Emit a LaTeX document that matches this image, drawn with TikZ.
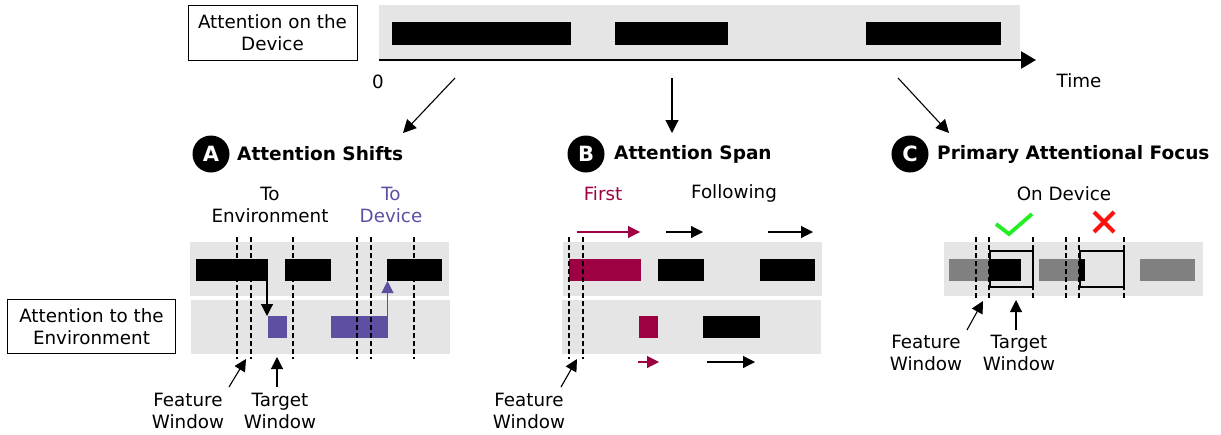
\documentclass[tikz,border=0pt]{standalone}
\usepackage{fontspec}
\setmainfont{DejaVu Sans}
\usetikzlibrary{arrows.meta}
\definecolor{bandgray}{HTML}{E5E5E5}
\definecolor{purp}{HTML}{5E4FA2}
\definecolor{crim}{HTML}{9E0142}
\definecolor{midgray}{HTML}{808080}
\definecolor{okgreen}{HTML}{22EE22}
\definecolor{nored}{HTML}{FF1111}
\tikzset{
  txt/.style={font=\fontsize{18.3}{22.5}\selectfont, align=center, inner sep=0pt},
  ttl/.style={font=\bfseries\fontsize{18.5}{22}\selectfont, anchor=west, inner sep=0pt},
  lbox/.style={draw, line width=0.8pt, font=\fontsize{18.3}{22.5}\selectfont, align=center},
  band/.style={fill=bandgray},
  badge/.style={circle, fill=black, minimum size=37pt, inner sep=0pt, text=white, font=\bfseries\fontsize{21}{21}\selectfont},
  win/.style={line width=1.1pt, dash pattern=on 5pt off 3pt},
  arr/.style={line width=1.1pt, -{Triangle[length=13pt,width=13pt]}},
  sarr/.style={line width=1.1pt, -{Triangle[length=12pt,width=12pt]}},
}
\begin{document}
\begin{tikzpicture}[x=1pt,y=-1pt]
\useasboundingbox (0,0) rectangle (1221,434);

% ---------- top timeline ----------
\node[lbox, minimum width=169pt, minimum height=55pt] (devlab) at (272.5,32.5) {Attention on the\\Device};
\fill[band] (379,5) rectangle (1020,60);
\fill (392,22) rectangle (571,45);
\fill (615,22) rectangle (728,45);
\fill (866,22) rectangle (1001,45);
\coordinate (ax0) at (379,60);
\coordinate (ax1) at (1036,60);
\draw[line width=2.4pt, -{Triangle[length=15pt,width=17pt]}] (ax0) -- (ax1);
\node[txt] (zero) at (378,82) {0};
\node[txt] (time) at (1079,81) {Time};

\coordinate (aS) at (455,78); \coordinate (aE) at (403,133);
\coordinate (bS) at (672,78); \coordinate (bE) at (672,133);
\coordinate (cS) at (898,78); \coordinate (cE) at (949,133);
\draw[arr] (aS) -- (aE);
\draw[arr] (bS) -- (bE);
\draw[arr] (cS) -- (cE);

% ---------- A ----------
\node[badge] (bA) at (211,154) {A};
\node[ttl] (tA) at (237,154) {Attention Shifts};
\node[txt] (toenv) at (270,205) {To\\Environment};
\node[txt, text=purp] (todev) at (391,205) {To\\Device};
\fill[band] (190,242) rectangle (449,296);
\fill[band] (191,300) rectangle (450,354);
\node[lbox, minimum width=168pt, minimum height=54pt] (envlab) at (91.5,326.5) {Attention to the\\Environment};
\fill (196,259) rectangle (268,281);
\fill (285,259) rectangle (331,281);
\fill (387,259) rectangle (442,281);
\fill[purp] (268,316) rectangle (287,338);
\fill[purp] (331,316) rectangle (388,338);
\foreach \x in {237,251,293,357,371,414} \draw[win] (\x,237) -- (\x,359);
\coordinate (a1s) at (267,281); \coordinate (a1e) at (267,316);
\draw[line width=1.1pt, -{Triangle[length=12pt,width=12pt]}] (a1s) -- (a1e);
\coordinate (a2s) at (387.5,316); \coordinate (a2e) at (387.5,281);
\draw[purp, line width=1.1pt, -{Triangle[length=12pt,width=12pt]}] (a2s) -- (a2e);
\node[txt] (fwA) at (188,411) {Feature\\Window};
\node[txt] (twA) at (280,411) {Target\\Window};
\coordinate (fwAs) at (229,387); \coordinate (fwAe) at (246,359);
\coordinate (twAs) at (277,387); \coordinate (twAe) at (277,357);
\draw[sarr] (fwAs) -- (fwAe);
\draw[sarr] (twAs) -- (twAe);

% ---------- B ----------
\node[badge] (bB) at (586,154) {B};
\node[ttl] (tB) at (614,154) {Attention Span};
\node[txt, text=crim] (first) at (603,194) {First};
\node[txt] (follow) at (734,193) {Following};
\coordinate (f1s) at (577,232); \coordinate (f1e) at (640,232);
\coordinate (f2s) at (666,232); \coordinate (f2e) at (703,232);
\coordinate (f3s) at (768,232); \coordinate (f3e) at (813,232);
\draw[crim, sarr] (f1s) -- (f1e);
\draw[sarr] (f2s) -- (f2e);
\draw[sarr] (f3s) -- (f3e);
\fill[band] (563,242) rectangle (822,296);
\fill[band] (562,300) rectangle (821,354);
\fill[crim] (569,259) rectangle (641,281);
\fill (658,259) rectangle (704,281);
\fill (760,259) rectangle (815,281);
\fill[crim] (639,316) rectangle (658,338);
\fill (703,316) rectangle (760,338);
\coordinate (g1s) at (638,362); \coordinate (g1e) at (659,362);
\coordinate (g2s) at (707,362); \coordinate (g2e) at (755,362);
\draw[crim, sarr] (g1s) -- (g1e);
\draw[sarr] (g2s) -- (g2e);
\foreach \x in {569,583} \draw[win] (\x,237) -- (\x,359);
\node[txt] (fwB) at (529,411) {Feature\\Window};
\coordinate (fwBs) at (561,387); \coordinate (fwBe) at (577,359);
\draw[sarr] (fwBs) -- (fwBe);

% ---------- C ----------
\node[badge] (bC) at (910,154) {C};
\node[ttl] (tC) at (937,154) {Primary Attentional Focus};
\node[txt] (ondev) at (1064,194) {On Device};
\draw[okgreen, line width=3.8pt] (996,224) -- (1009,234) -- (1032,214);
\draw[nored, line width=4pt] (1094,212) -- (1114,232) (1114,212) -- (1094,232);
\fill[band] (944,242) rectangle (1203,296);
\fill[midgray] (949,259) rectangle (990,281);
\fill (990,259) rectangle (1021,281);
\fill[midgray] (1039,259) rectangle (1080,281);
\fill (1080,259) rectangle (1085,281);
\fill[midgray] (1140,259) rectangle (1195,281);
\draw[line width=1.1pt] (990,251) rectangle (1033,287);
\draw[line width=1.1pt] (1080,251) rectangle (1124,287);
\foreach \x in {976,989,1033,1066,1079,1124} \draw[win] (\x,237) -- (\x,299);
\node[txt] (fwC) at (926,353) {Feature\\Window};
\node[txt] (twC) at (1019,353) {Target\\Window};
\coordinate (fwCs) at (967,330); \coordinate (fwCe) at (983,301);
\coordinate (twCs) at (1016,330); \coordinate (twCe) at (1016,300);
\draw[sarr] (fwCs) -- (fwCe);
\draw[sarr] (twCs) -- (twCe);
\end{tikzpicture}
\end{document}
